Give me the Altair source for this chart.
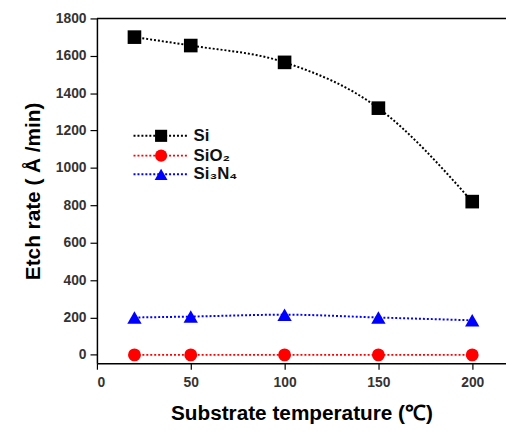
import altair as alt
import pandas as pd

temps = [20, 50, 100, 150, 200]
si = [1700, 1655, 1565, 1320, 820]
sio2 = [0, 0, 0, 0, 0]
si3n4 = [200, 205, 215, 200, 185]

series = ["Si", "SiO₂", "Si₃N₄"]
colors = ["#000000", "#ff0000", "#0000ff"]
shapes = ["square", "circle", "triangle-up"]
sizes = [190, 170, 210]
legend_sizes = [150, 150, 170]

rows = []
for name, vals in zip(series, [si, sio2, si3n4]):
    for t, v in zip(temps, vals):
        rows.append({"temp": t, "rate": v, "series": name})
df = pd.DataFrame(rows)

# legend placement (in data units of the axes)
LEG_X0, LEG_XM, LEG_X1, LEG_XT = 19.5, 34.2, 48.5, 51.5
LEG_Y = [1172, 1066, 966]
leg_df = pd.DataFrame({
    "series": series,
    "x0": [LEG_X0] * 3, "xm": [LEG_XM] * 3, "x1": [LEG_X1] * 3, "xt": [LEG_XT] * 3,
    "y": LEG_Y,
})

W, H = 414, 349
FONT = "Liberation Sans"

xscale = alt.Scale(domain=[0, 218], nice=False)
yscale = alt.Scale(domain=[-45, 1800], nice=False, zero=False)
xaxis = alt.Axis(values=[0, 50, 100, 150, 200], title="Substrate temperature (℃)",
                 grid=False, tickSize=6, labelPadding=6, titlePadding=14, format="d")
yaxis = alt.Axis(values=list(range(0, 1801, 200)), title="Etch rate ( Å /min)",
                 grid=False, tickSize=7, labelPadding=4, titlePadding=12, format="d")

x = alt.X("temp:Q", scale=xscale, axis=xaxis)
y = alt.Y("rate:Q", scale=yscale, axis=yaxis)

cscale = alt.Scale(domain=series, range=colors)
color_nl = alt.Color("series:N", scale=cscale, legend=None)

base = alt.Chart(df)
lbase = alt.Chart(leg_df)

lines = base.mark_line(strokeDash=[2, 2], strokeWidth=2, interpolate="monotone").encode(
    x=x, y=y, color=color_nl, detail="series:N")

point_layers = []
for name, shp, sz, lsz in zip(series, shapes, sizes, legend_sizes):
    point_layers.append(
        base.transform_filter(alt.datum.series == name)
        .mark_point(filled=True, opacity=1, shape=shp, size=sz)
        .encode(x=x, y=y, color=color_nl)
    )
    point_layers.append(
        lbase.transform_filter(alt.datum.series == name)
        .mark_point(filled=True, opacity=1, shape=shp, size=lsz)
        .encode(x=alt.X("xm:Q", scale=xscale, axis=xaxis),
                y=alt.Y("y:Q", scale=yscale, axis=yaxis), color=color_nl)
    )

leg_lines = lbase.mark_rule(strokeDash=[2, 2], strokeWidth=2).encode(
    x=alt.X("x0:Q", scale=xscale, axis=xaxis), x2="x1:Q",
    y=alt.Y("y:Q", scale=yscale, axis=yaxis), color=color_nl)

leg_text = lbase.mark_text(align="left", baseline="middle", font=FONT, fontSize=17,
                           fontWeight="bold", color="#111111").encode(
    x=alt.X("xt:Q", scale=xscale, axis=xaxis),
    y=alt.Y("y:Q", scale=yscale, axis=yaxis), text="series:N")

top_rule = alt.Chart(pd.DataFrame({"a": [0]})).mark_rule(color="black", strokeWidth=1.5).encode(
    y=alt.value(0), x=alt.value(0), x2=alt.value(W))

chart = alt.layer(lines, leg_lines, *point_layers, leg_text, top_rule).properties(
    width=W, height=H,
    padding={"left": 90, "top": 8, "right": 0, "bottom": 70},
    autosize=alt.AutoSizeParams(type="none"),
).configure_view(stroke=None).configure_axis(
    domainColor="black", domainWidth=1.5, tickColor="black", tickWidth=1.2,
    labelFont=FONT, labelFontSize=14, labelFontWeight="bold", labelColor="#333333",
    titleFont=FONT, titleFontSize=21, titleFontWeight="bold", titleColor="#000000",
)

chart.save("out.html", embed_options={"renderer": "svg", "actions": False})
